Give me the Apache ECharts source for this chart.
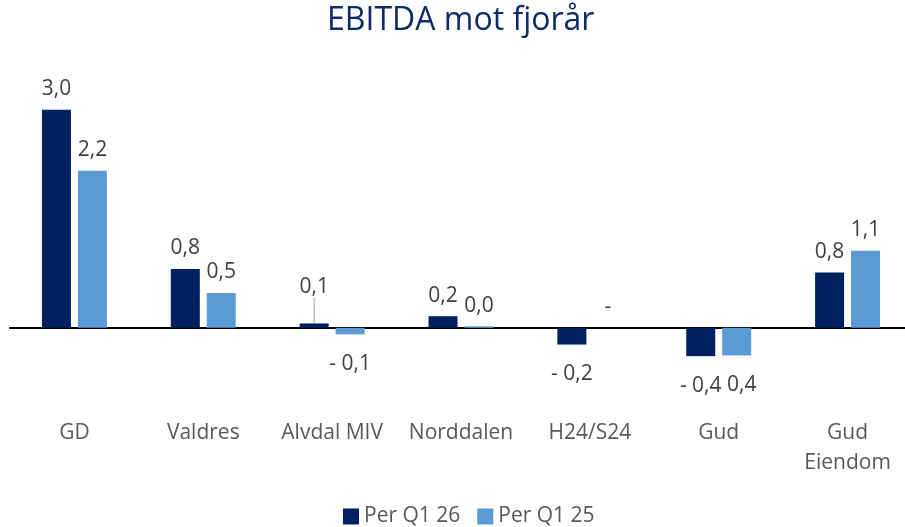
<!DOCTYPE html>
<html>
<head>
<meta charset="utf-8">
<script src="https://cdn.jsdelivr.net/npm/echarts@6/dist/echarts.min.js"></script>
<style>
html, body { margin: 0; padding: 0; background: #fff; }
#chart { width: 905px; height: 527px; }
</style>
</head>
<body>
<div id="chart"></div>
<script>
var categories = ['GD', 'Valdres', 'Alvdal MIV', 'Norddalen', 'H24/S24', 'Gud', 'Gud\nEiendom'];
var q126 = [3.0, 0.81, 0.06, 0.16, -0.23, -0.39, 0.76];
var q125 = [2.16, 0.48, -0.09, 0.02, 0, -0.38, 1.06];
// label text as printed in the source (light Gud bar is shown without minus)
var q125Text = [null, null, null, null, null, '0,4', null];

function fmt(v) {
    if (v === 0) return '-';
    var s = Math.abs(v).toFixed(1).replace('.', ',');
    return v < 0 ? '- ' + s : s;
}

function buildData(values, texts, leaderIdx) {
    return values.map(function(v, i) {
        var txt = (texts && texts[i]) ? texts[i] : fmt(v);
        var item = {
            value: v,
            label: {
                position: v < 0 ? 'bottom' : 'top',
                distance: v < 0 ? 19 : 10,
                formatter: txt
            }
        };
        if (i === leaderIdx) {
            item.labelLine = { show: true, lineStyle: { color: '#a6a6a6', width: 1 } };
        }
        return item;
    });
}

document.addEventListener("DOMContentLoaded", function() {

    var chart = echarts.init(document.getElementById('chart'));

    var labelStyle = {
        show: true,
        color: '#404040',
        fontSize: 21,
        fontFamily: 'Open Sans'
    };

    var option = {
        animation: false,
        title: {
            text: 'EBITDA mot fjorår',
            left: 322,
            top: 0,
            textStyle: {
                color: '#0f2a6b',
                fontWeight: 'normal',
                fontSize: 32,
                fontFamily: 'Open Sans'
            }
        },
        legend: {
            top: 501,
            left: 338,
            icon: 'rect',
            itemWidth: 16,
            itemHeight: 16,
            itemGap: 17,
            textStyle: {
                color: '#595959',
                fontSize: 21,
                fontFamily: 'Open Sans'
            }
        },
        grid: {
            left: 10,
            right: -7,
            top: 73.5,
            bottom: 112,
            outerBoundsMode: 'none',
            containLabel: false
        },
        xAxis: {
            type: 'category',
            data: categories,
            axisLine: { lineStyle: { color: '#000', width: 2 } },
            axisTick: { show: false },
            axisLabel: {
                interval: 0,
                margin: 3,
                color: '#595959',
                fontSize: 21,
                lineHeight: 30,
                fontFamily: 'Open Sans'
            }
        },
        yAxis: {
            type: 'value',
            min: -1.2,
            max: 3.5,
            show: false,
            splitLine: { show: false }
        },
        series: [
            {
                name: 'Per Q1 26',
                type: 'bar',
                barWidth: 29,
                barGap: '24%',
                itemStyle: { color: '#002060' },
                label: labelStyle,
                labelLayout: function(params) {
                    if (params.dataIndex === 2) return { dy: -16 };
                },
                data: buildData(q126, null, 2)
            },
            {
                name: 'Per Q1 25',
                type: 'bar',
                barWidth: 29,
                itemStyle: { color: '#5b9bd5' },
                label: labelStyle,
                labelLayout: function(params) {
                    if (params.dataIndex === 5) return { dx: 5 };
                },
                data: buildData(q125, q125Text, -1)
            }
        ]
    };

    chart.setOption(option);
});
</script>
</body>
</html>
